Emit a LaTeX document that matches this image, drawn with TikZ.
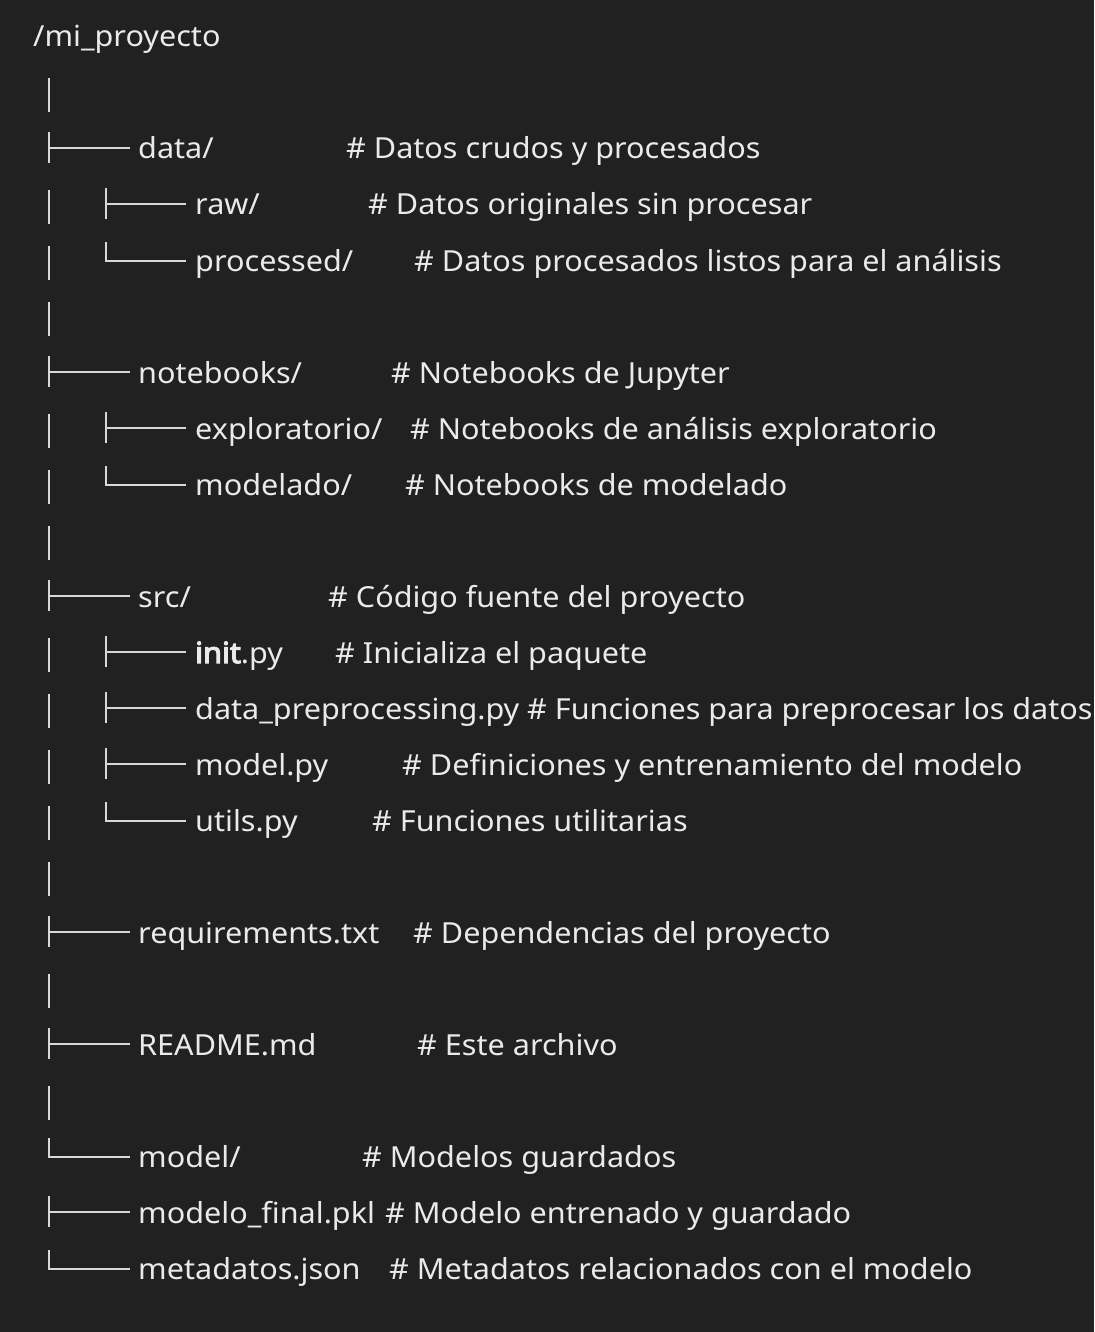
\documentclass[tikz,border=0pt]{standalone}
\usepackage{fontspec}
\setmainfont{Noto Sans}[FakeStretch=1.055]
\newfontfamily\fboldfam{Noto Sans}[FakeStretch=1.055,FakeBold=4]
\definecolor{bgc}{HTML}{212121}
\definecolor{fgc}{HTML}{EAEAEA}
\definecolor{lnc}{HTML}{D8D8D8}
\newcommand\tvbar[2]{\draw[treeln] (#1,{47+56*#2-25}) -- (#1,{47+56*#2+9});}
\newcommand\ttee[3]{\draw[treeln] (#1,{47+56*#2-27}) -- (#1,{47+56*#2+4});
  \draw[treeln] (#1,{47+56*#2-11}) -- (#3,{47+56*#2-11});}
\newcommand\tcorner[3]{\draw[treeln] (#1,{47+56*#2-29}) -- (#1,{47+56*#2-10}) -- (#3,{47+56*#2-10});}
\newcommand\trow[5]{% row, xname, name, xcomment, comment
  \node[txt] (n#1) at (#2,{47+56*#1}) {#3};
  \node[txt] (c#1) at (#4,{47+56*#1}) {\#~#5};}
\begin{document}
\begin{tikzpicture}[x=1pt,y=-1pt,
  txt/.style={anchor=base west,inner sep=0pt,text=fgc,font=\fontsize{29}{35}\selectfont},
  treeln/.style={draw=lnc,line width=2.2pt,line join=miter}]
\fill[bgc] (0,0) rectangle (1094,1332);
\useasboundingbox (0,0) rectangle (1094,1332);
\node[txt] (root) at (33,47) {/mi\_proyecto};
% tree lines
\tvbar{49}{1}
\ttee{49}{2}{130}
\tvbar{49}{3} \ttee{106}{3}{186}
\tvbar{49}{4} \tcorner{106}{4}{186}
\tvbar{49}{5}
\ttee{49}{6}{130}
\tvbar{49}{7} \ttee{106}{7}{186}
\tvbar{49}{8} \tcorner{106}{8}{186}
\tvbar{49}{9}
\ttee{49}{10}{130}
\tvbar{49}{11} \ttee{106}{11}{186}
\tvbar{49}{12} \ttee{106}{12}{186}
\tvbar{49}{13} \ttee{106}{13}{186}
\tvbar{49}{14} \tcorner{106}{14}{186}
\tvbar{49}{15}
\ttee{49}{16}{130}
\tvbar{49}{17}
\ttee{49}{18}{130}
\tvbar{49}{19}
\tcorner{49}{20}{130}
\ttee{49}{21}{130}
\tcorner{49}{22}{130}
% texts
\trow{2}{138}{data/}{346}{Datos crudos y procesados}
\trow{3}{195}{raw/}{368}{Datos originales sin procesar}
\trow{4}{195}{processed/}{414}{Datos procesados listos para el análisis}
\trow{6}{138}{notebooks/}{391}{Notebooks de Jupyter}
\trow{7}{195}{exploratorio/}{410}{Notebooks de análisis exploratorio}
\trow{8}{195}{modelado/}{405}{Notebooks de modelado}
\trow{10}{138}{src/}{328}{Código fuente del proyecto}
\trow{11}{195}{{\fboldfam init}.py}{335}{Inicializa el paquete}
\trow{12}{195}{data\_preprocessing.py}{527}{Funciones para preprocesar los datos}
\trow{13}{195}{model.py}{402}{Definiciones y entrenamiento del modelo}
\trow{14}{195}{utils.py}{372}{Funciones utilitarias}
\trow{16}{138}{requirements.txt}{413}{Dependencias del proyecto}
\trow{18}{138}{README.md}{417}{Este archivo}
\trow{20}{138}{model/}{362}{Modelos guardados}
\trow{21}{138}{modelo\_final.pkl}{385}{Modelo entrenado y guardado}
\trow{22}{138}{metadatos.json}{389}{Metadatos relacionados con el modelo}
\end{tikzpicture}
\end{document}
